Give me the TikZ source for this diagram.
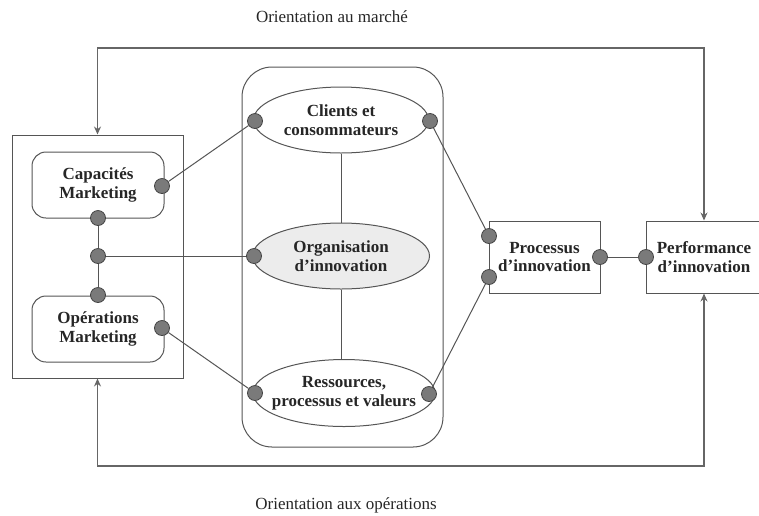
\documentclass[tikz,border=0pt]{standalone}
\usepackage{fontspec}
\setmainfont{Liberation Serif}
\usetikzlibrary{arrows.meta,shapes.geometric}
\definecolor{ln}{HTML}{555555}
\definecolor{dotfill}{HTML}{7A7A7A}
\tikzset{
  box/.style={draw=ln, line width=1pt, minimum width=#1, inner sep=0pt},
  lbl/.style={font=\fontsize{17}{18.5}\selectfont\bfseries, align=center, text=black!85},
  rbox/.style={draw=ln, line width=1pt, rounded corners=14pt, minimum width=132pt, minimum height=66pt, inner sep=0pt},
  ell/.style={draw=ln, line width=1pt, ellipse, inner sep=0pt},
  dot/.style={circle, draw=ln!80!black, fill=dotfill, line width=0.8pt, minimum size=15pt, inner sep=0pt},
  conn/.style={draw=ln, line width=1pt},
  fb/.style={draw=ln!90, line width=1.1pt, arrows={Stealth[length=8pt,width=7pt]-Stealth[length=8pt,width=7pt]}},
  captxt/.style={font=\fontsize{17}{19}\selectfont, text=black!85}
}
\begin{document}
\begin{tikzpicture}[x=1pt,y=-1pt]
\useasboundingbox (0,0) rectangle (759,515);
% containers
\node[box=171pt, minimum height=243pt] (L) at (97.5,256.5) {};
\node[draw=ln, line width=1pt, rounded corners=30pt, minimum width=201pt, minimum height=380pt, inner sep=0pt] (C) at (342.5,257) {};
% inner boxes
\node[rbox, lbl] (capm) at (98,185) {Capacités\\Marketing};
\node[rbox, lbl] (opsm) at (98,329) {Opérations\\Marketing};
\node[ell, minimum width=175pt, minimum height=66pt] (cli) at (341,120) {};
\node[lbl] (cliT) at (cli.center) {Clients et\\consommateurs};
\node[ell, fill=gray!15, minimum width=177pt, minimum height=66pt] (org) at (341,256) {};
\node[lbl] (orgT) at (org.center) {Organisation\\d’innovation};
\node[ell, minimum width=182pt, minimum height=67pt] (res) at (344,393) {};
\node[lbl] (resT) at (res.center) {Ressources,\\processus et valeurs};
\node[box=111pt, minimum height=72pt, lbl] (proc) at (544.5,257) {Processus\\d’innovation};
\node[box=116pt, minimum height=72pt, lbl, xshift=2.5pt] (perf) at (701.5,257) {Performance\\d’innovation};
% vertical links in central box
\draw[conn] (cli.south) -- (org.north);
\draw[conn] (org.south) -- (org.south |- res.north);
% dots
\node[dot] (d1) at (162,186) {};
\node[dot] (d2) at (98,218) {};
\node[dot] (d3) at (98,256) {};
\node[dot] (d4) at (98,295) {};
\node[dot] (d5) at (162,328) {};
\node[dot] (d6) at (255,121) {};
\node[dot] (d7) at (430,121) {};
\node[dot] (d8) at (254,256) {};
\node[dot] (d9) at (255,393) {};
\node[dot] (d10) at (429,394) {};
\node[dot] (d11) at (489,236) {};
\node[dot] (d12) at (489,277) {};
\node[dot] (d13) at (600,257) {};
\node[dot] (d14) at (646,257) {};
% connectors
\draw[conn] (d1) -- (d6);
\draw[conn] (d5) -- (d9);
\draw[conn] (d3) -- (d8);
\draw[conn] (d2) -- (d3);
\draw[conn] (d3) -- (d4);
\draw[conn] (d7) -- (d11);
\draw[conn] (d10) -- (d12);
\draw[conn] (d13) -- (d14);
% feedback loops
\coordinate (tl) at (97.5,48);
\coordinate (tr) at (704,48);
\coordinate (bl) at (97.5,466);
\coordinate (br) at (704,466);
\draw[fb] (L.north) -- (tl) -- (tr) -- (tr |- perf.north);
\draw[fb] (L.south) -- (bl) -- (br) -- (br |- perf.south);
% captions
\node[captxt] (t1) at (332,17) {Orientation au marché};
\node[captxt] (t2) at (346,505) {Orientation aux opérations};
\end{tikzpicture}
\end{document}
